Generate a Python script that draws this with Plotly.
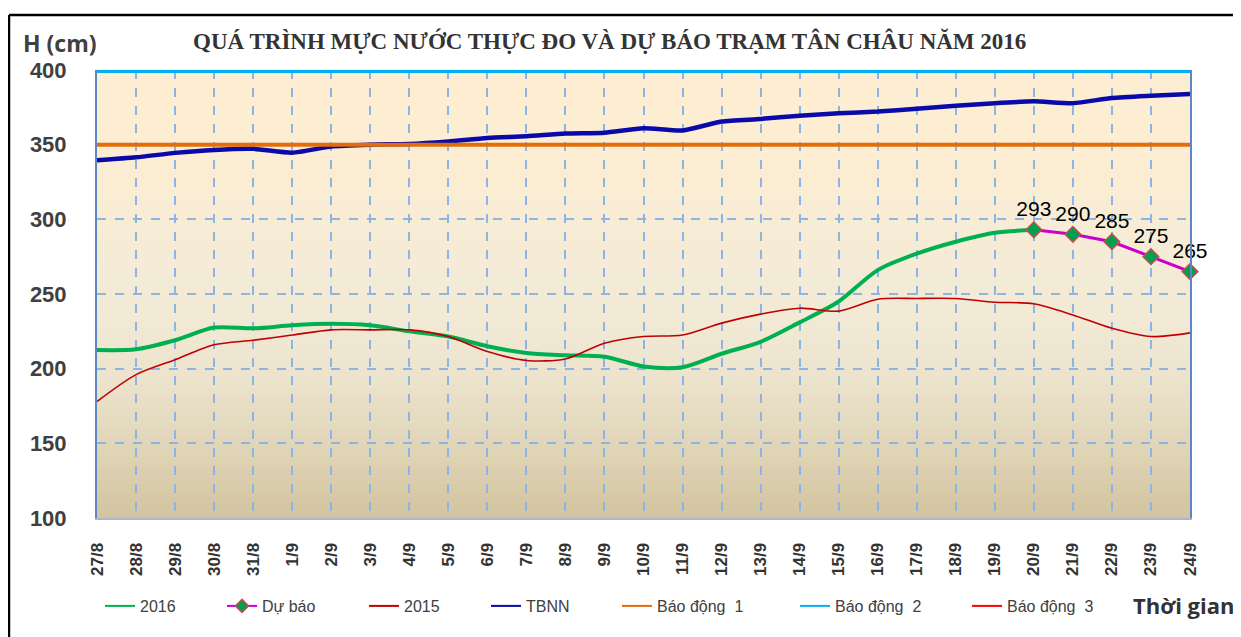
import plotly.graph_objects as go

dates = ["27/8", "28/8", "29/8", "30/8", "31/8", "1/9", "2/9", "3/9", "4/9", "5/9",
         "6/9", "7/9", "8/9", "9/9", "10/9", "11/9", "12/9", "13/9", "14/9", "15/9",
         "16/9", "17/9", "18/9", "19/9", "20/9", "21/9", "22/9", "23/9", "24/9"]

h2016 = [212.5, 213, 219, 227.5, 227, 229, 230, 229, 225, 221.5,
         215, 210.5, 209, 208, 201.5, 201, 210, 218, 231, 245,
         266, 277, 285, 291, 293]

forecast_dates = ["20/9", "21/9", "22/9", "23/9", "24/9"]
forecast = [293, 290, 285, 275, 265]

h2015 = [178, 196, 206, 216, 219, 222.5, 226, 226, 226, 221.5,
         211.5, 205.5, 206.5, 217, 221.5, 222.5, 230.5, 236.5, 240.5, 238.5,
         246.5, 247, 247, 244.5, 243.5, 236, 227, 221.5, 224]

tbnn = [339.5, 341.5, 344.5, 346.5, 347.2, 344.6, 348.8, 350, 350.5, 352.2,
        354.5, 355.6, 357.4, 358, 361, 359.5, 365.5, 367.2, 369.4, 371,
        372.2, 374.1, 376, 377.8, 379, 377.8, 381.3, 382.8, 384]

bao_dong_1 = 350
bao_dong_2 = 400
bao_dong_3 = 450

y_ticks = [100, 150, 200, 250, 300, 350, 400]

legend_names = ["2016", "Dự báo", "2015", "TBNN", "Báo động  1", "Báo động  2", "Báo động  3"]
legend_colors = ["#00B050", "#CC00CC", "#C00000", "#0A0AAA", "#E46C0A", "#00B0F0", "#FF0000"]

# page body has an 8px margin; reference pixel coords are mapped accordingly
OFF = 8
W, H = 1241 - OFF, 637 - OFF
L, R, T, B = 97, 1190, 70, 518          # plot area in reference coordinates
pw, ph = R - L, B - T


def px(xr):
    return (xr - L) / pw


def py(yr):
    return (B - yr) / ph


LEG_FONT = dict(family="Liberation Sans, Arial", size=16, color="#404040")
legend_text_starts = [141, 263, 405, 527, 658, 836, 1008]

fig = go.Figure()

fig.add_trace(go.Scatter(x=dates[:len(h2016)], y=h2016, name="2016", mode="lines", showlegend=False,
                         line=dict(color="#00B050", width=4, shape="spline", smoothing=0.8)))
fig.add_trace(go.Scatter(x=dates, y=h2015, name="2015", mode="lines", showlegend=False,
                         line=dict(color="#C00000", width=1.6, shape="spline", smoothing=0.8)))
fig.add_trace(go.Scatter(x=dates, y=tbnn, name="TBNN", mode="lines", showlegend=False,
                         line=dict(color="#0A0AAA", width=4.5, shape="spline", smoothing=0.6)))
fig.add_trace(go.Scatter(x=[dates[0], dates[-1]], y=[bao_dong_1, bao_dong_1], name="Báo động  1",
                         mode="lines", showlegend=False, line=dict(color="#E46C0A", width=4)))
fig.add_trace(go.Scatter(x=[dates[0], dates[-1]], y=[bao_dong_2, bao_dong_2], name="Báo động  2",
                         mode="lines", showlegend=False, line=dict(color="#00B0F0", width=6)))
fig.add_trace(go.Scatter(x=[dates[0], dates[-1]], y=[bao_dong_3, bao_dong_3], name="Báo động  3",
                         mode="lines", showlegend=False, line=dict(color="#FF0000", width=2)))
fig.add_trace(go.Scatter(x=forecast_dates, y=forecast, name="Dự báo", mode="lines+markers+text",
                         showlegend=False,
                         line=dict(color="#CC00CC", width=3),
                         marker=dict(symbol="diamond", size=12, color="#00A050",
                                     line=dict(color="#C0504D", width=1.5)),
                         text=[str(v) for v in forecast], textposition="top center",
                         textfont=dict(family="Liberation Sans, Arial", size=21, color="#000000"),
                         cliponaxis=False))

# legend entries (thin line symbols, as in the reference legend)
legend_layout = {}
for k, (name, col) in enumerate(zip(legend_names, legend_colors)):
    key = "legend" if k == 0 else "legend%d" % (k + 1)
    is_fc = name == "Dự báo"
    fig.add_trace(go.Scatter(
        x=[None], y=[None], name=name, legend=key, showlegend=True,
        mode="lines+markers" if is_fc else "lines",
        line=dict(color=col, width=2),
        marker=dict(symbol="diamond", size=10, color="#00A050", line=dict(color="#C0504D", width=1.5)),
    ))
    legend_layout[key] = dict(orientation="h", x=px(legend_text_starts[k] - 41), xanchor="left",
                              y=py(606), yanchor="middle", font=LEG_FONT,
                              bgcolor="rgba(0,0,0,0)", borderwidth=0)


def hex2rgb(h):
    h = h.lstrip("#")
    return tuple(int(h[i:i + 2], 16) for i in (0, 2, 4))


stops = [(0.0, "#D2C4A0"), (0.12, "#DDD1B2"), (0.3, "#ECE3CC"), (0.45, "#F2EAD6"),
         (0.62, "#F6ECD6"), (0.8, "#FCEDD3"), (1.0, "#FDEED3")]
n = 90
shapes = []
for k in range(n):
    y0 = k / n
    y1 = (k + 1) / n
    m = (y0 + y1) / 2
    for j in range(len(stops) - 1):
        if stops[j][0] <= m <= stops[j + 1][0]:
            a, ca = stops[j]
            b, cb = stops[j + 1]
            t = (m - a) / (b - a)
            ra, rb = hex2rgb(ca), hex2rgb(cb)
            c = tuple(round(ra[i] + (rb[i] - ra[i]) * t) for i in range(3))
            break
    shapes.append(dict(type="rect", xref="x domain", yref="y domain", x0=0, x1=1, y0=y0, y1=y1 + 0.002,
                       fillcolor="rgb(%d,%d,%d)" % c, line=dict(width=0), layer="below"))

# outer black frame (left and top edges visible)
shapes.append(dict(type="line", xref="paper", yref="paper", x0=px(9), x1=px(1260), y0=py(15), y1=py(15),
                   line=dict(color="#000000", width=2.5), layer="above"))
shapes.append(dict(type="line", xref="paper", yref="paper", x0=px(9), x1=px(9), y0=py(15), y1=py(660),
                   line=dict(color="#000000", width=2.5), layer="above"))

fig.update_layout(
    width=W, height=H,
    margin=dict(l=L - OFF, r=W - (R - OFF), t=T - OFF, b=H - (B - OFF)),
    paper_bgcolor="#FFFFFF", plot_bgcolor="rgba(0,0,0,0)",
    shapes=shapes,
    showlegend=True,
    annotations=[
        dict(text="<b>QUÁ TRÌNH MỰC NƯỚC THỰC ĐO VÀ DỰ BÁO TRẠM TÂN CHÂU NĂM 2016</b>",
             xref="paper", yref="paper", x=px(609), y=py(41), xanchor="center", yanchor="middle",
             showarrow=False, font=dict(family="Liberation Serif, Times New Roman", size=23, color="#333333")),
        dict(text="<b>H (cm)</b>", xref="paper", yref="paper", x=px(21), y=py(43),
             xanchor="left", yanchor="middle", showarrow=False,
             font=dict(family="Open Sans", size=23, color="#404040")),
        dict(text="<b>Thời gian</b>", xref="paper", yref="paper", x=px(1236), y=py(605),
             xanchor="right", yanchor="middle", showarrow=False,
             font=dict(family="Open Sans", size=22, color="#333333")),
    ],
    **legend_layout,
)

fig.update_xaxes(
    type="category", categoryorder="array", categoryarray=dates,
    range=[0, len(dates) - 1],
    tickvals=dates, ticktext=["<b>%s</b>" % d for d in dates],
    tickangle=-90, tickfont=dict(family="Liberation Sans, Arial", size=17, color="#333333"),
    ticks="outside", ticklen=16, tickcolor="rgba(0,0,0,0)",
    showgrid=True, gridcolor="#8DB4E2", gridwidth=2, griddash="dash",
    showline=True, linecolor="#A9B8CC", linewidth=2, zeroline=False,
)
fig.update_yaxes(
    range=[100, 400], tickvals=y_ticks, ticktext=["<b>%d</b>" % v for v in y_ticks],
    tickfont=dict(family="Liberation Sans, Arial", size=22, color="#404040"),
    ticks="outside", ticklen=24, tickcolor="rgba(0,0,0,0)",
    showgrid=True, gridcolor="#8DB4E2", gridwidth=1.5, griddash="dash",
    showline=True, linecolor="#5B87C5", linewidth=2, mirror=True, zeroline=False,
)

fig.write_html("out.html")
